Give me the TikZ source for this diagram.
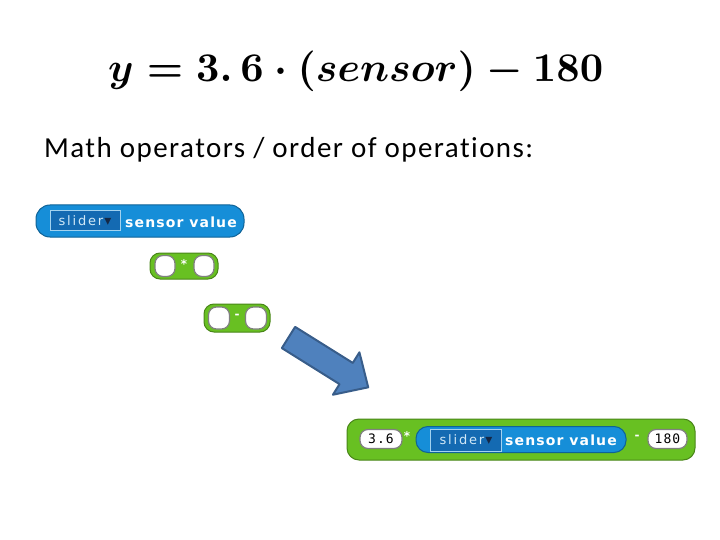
\documentclass[tikz,border=0pt]{standalone}
\usepackage[no-math]{fontspec}
\usepackage{graphicx}
\setmainfont{Carlito}[LetterSpace=5,Ligatures=NoCommon]
\newfontfamily\blockfont[LetterSpace=8]{DejaVu Sans}
\newfontfamily\dropfont[LetterSpace=14]{DejaVu Sans}
\newfontfamily\numfont[LetterSpace=8]{DejaVu Sans Mono}
\newfontfamily\symfont{DejaVu Sans}
\usetikzlibrary{positioning}
\definecolor{sensblue}{RGB}{22,142,216}
\definecolor{dropblue}{RGB}{20,106,178}
\definecolor{opgreen}{RGB}{104,192,34}
\definecolor{arrfill}{RGB}{79,129,189}
\definecolor{arrdraw}{RGB}{56,93,138}
\definecolor{navy}{RGB}{20,40,70}
\newsavebox\eqbox
\newcommand\tri{\hspace{1pt}{\symfont\fontsize{14}{14}\selectfont\color{navy}▾}}

\begin{document}
\sbox\eqbox{\resizebox{495pt}{!}{\boldmath$y=3.\,6\cdot(sensor)-180$}}
\begin{tikzpicture}[x=1pt,y=-1pt,
  rep/.style={rectangle,rounded corners=14pt,fill=sensblue,draw=sensblue!70!black,line width=1pt,inner sep=0pt},
  op/.style={rectangle,rounded corners=10pt,fill=opgreen,draw=opgreen!70!black,line width=1pt,inner sep=0pt},
  drop/.style={rectangle,fill=dropblue,draw=sensblue!40!white,line width=1pt,inner sep=0pt,text=white!80!sensblue,font={\dropfont\fontsize{13}{13}\selectfont}},
  slot/.style={rectangle,rounded corners=8pt,fill=white,draw=black!50,line width=1.2pt,inner sep=0pt,font={\numfont\fontsize{13}{13}\selectfont}},
  lbl/.style={text=white,inner sep=0pt,font={\blockfont\bfseries\fontsize{14}{14}\selectfont}},
  sym/.style={text=white,inner sep=0pt,font={\symfont\bfseries\fontsize{12}{12}\selectfont}}]
\fill[white](0,0) rectangle (720,540);
\path[use as bounding box](0,0) rectangle (720,540);
\node[anchor=base west,inner sep=0pt] (eq) at (108,82) {\usebox\eqbox};
\node[anchor=base west,inner sep=0pt] (title) at (44,158) {\fontsize{29}{34}\selectfont Math operators / order of operations:};
\node[rep,minimum width=208,minimum height=32] (sens) at (140,221) {};
\node[drop,minimum width=70,minimum height=20] (sdrop) at (85,221) {slider\tri};
\node[lbl] (slbl) at (181,222) {sensor value};
\node[op,minimum width=68,minimum height=26] (mul) at (184,266) {};
\node[slot,minimum width=20,minimum height=21] (mulA) at (165,266) {};
\node[slot,minimum width=20,minimum height=21] (mulB) at (204,266) {};
\node[sym] (mulS) at (184,264) {*};
\node[op,minimum width=66,minimum height=28] (sub) at (237,318) {};
\node[slot,minimum width=21,minimum height=22] (subA) at (219,318) {};
\node[slot,minimum width=21,minimum height=22] (subB) at (256,318) {};
\node[sym] (subS) at (237,316) {-};
\begin{scope}[shift={(288.5,337.5)},rotate=-32]
\filldraw[fill=arrfill,draw=arrdraw,line width=2pt,line join=round](0,-12.5)--(68,-12.5)--(68,-25)--(94,0)--(68,25)--(68,12.5)--(0,12.5)--cycle;
\end{scope}
\node[op,minimum width=348,minimum height=41,rounded corners=12pt] (big) at (521,439.5) {};
\node[slot,minimum width=42,minimum height=19] (num) at (381,439) {3.6};
\node[sym] (bmul) at (407,436) {*};
\node[rep,minimum width=210,minimum height=26,rounded corners=12pt] (bsens) at (521,439.5) {};
\node[drop,minimum width=71,minimum height=22] (bdrop) at (466,440) {slider\tri};
\node[lbl] (blbl) at (561,440) {sensor value};
\node[sym] (bsub) at (637,437) {-};
\node[slot,minimum width=39,minimum height=19] (cst) at (667.5,439) {180};
\end{tikzpicture}
\end{document}
